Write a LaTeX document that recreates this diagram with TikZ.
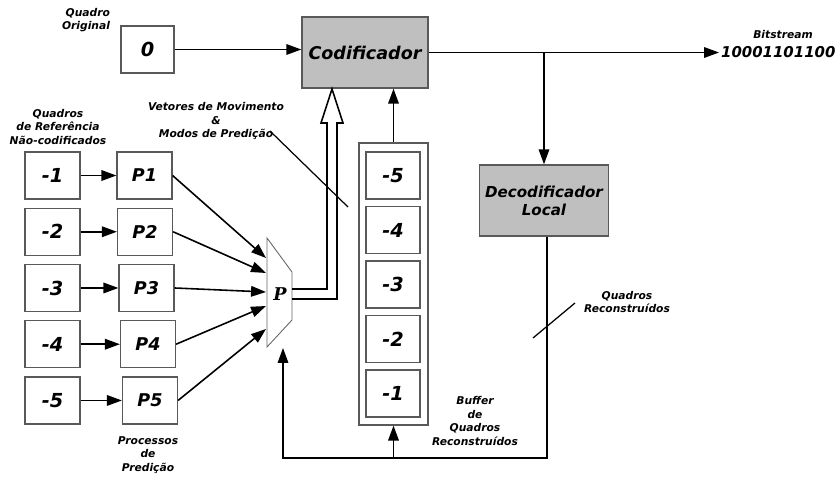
\documentclass[tikz,border=0pt]{standalone}
\usepackage{fontspec}
\setmainfont{DejaVu Sans}
\newfontfamily\muxfont{DejaVu Serif}
\usetikzlibrary{arrows.meta,calc}
\tikzstyle{framebox} = [rectangle, minimum width=1.1cm, minimum height=0.94cm, text centered, draw=black!65, line width=0.7pt, fill=white, font=\fontsize{11}{13}\selectfont\bfseries\itshape]
\tikzstyle{coder} = [rectangle, minimum width=2.5cm, minimum height=1.42cm, align=center, draw=black!65, line width=0.8pt, fill=black!25]
\tikzstyle{smalltxt} = [align=center, inner sep=0pt, font=\fontsize{6.1}{7.7}\selectfont\bfseries\itshape]
\tikzstyle{arrow} = [line width=0.9pt, -{Triangle[length=8.5pt,width=6pt]}]
\tikzstyle{wire} = [line width=0.9pt]
\begin{document}
\begin{tikzpicture}[x=0.02cm, y=-0.02cm, node distance=1.125cm]
  \useasboundingbox (0,0) rectangle (839,477);
  % quadro original, codificador e decodificador
  \node (q0)[framebox, minimum width=1.06cm] at (147.5,49.5) {0};
  \node (cod)[coder, minimum width=2.52cm, font=\fontsize{10}{12}\selectfont\bfseries\itshape] at (365,52.5) {Codificador};
  \node (dec)[coder, minimum width=2.48cm, font=\fontsize{8.6}{10.4}\selectfont\bfseries\itshape] at (544,200.5) {Decodificador\\Local};
  \node (bits)[anchor=west, inner sep=1pt, font=\fontsize{8.5}{10}\selectfont\bfseries\itshape] at (719,52.5) {10001101100};
  % quadros de referencia
  \node (r1)[framebox] at (52.5,175.5) {-1};
  \node (r2)[framebox, below of=r1] {-2};
  \node (r3)[framebox, below of=r2] {-3};
  \node (r4)[framebox, below of=r3] {-4};
  \node (r5)[framebox, below of=r4] {-5};
  % processos de predicao
  \node (p1)[framebox, right of=r1, xshift=0.715cm, font=\fontsize{10}{12}\selectfont\bfseries\itshape] {P1};
  \node (p2)[framebox, right of=r2, xshift=0.725cm, font=\fontsize{10}{12}\selectfont\bfseries\itshape] {P2};
  \node (p3)[framebox, right of=r3, xshift=0.755cm, font=\fontsize{10}{12}\selectfont\bfseries\itshape] {P3};
  \node (p4)[framebox, right of=r4, xshift=0.785cm, font=\fontsize{10}{12}\selectfont\bfseries\itshape] {P4};
  \node (p5)[framebox, right of=r5, xshift=0.825cm, font=\fontsize{10}{12}\selectfont\bfseries\itshape] {P5};
  % multiplexador
  \draw[draw=black!60, line width=0.5pt] (267,238) -- (292,272) -- (292,320) -- (267,347) -- cycle;
  \node (mux) at (280,294) {\muxfont\bfseries\itshape P};
  \coordinate (m1) at (266,258);
  \coordinate (m2) at (266,273);
  \coordinate (m3) at (266,292);
  \coordinate (m4) at (266,306);
  \coordinate (m5) at (266,329);
  \coordinate (mo1) at (292,289);
  \coordinate (mo2) at (292,299);
  \coordinate (mb) at (283,348);
  % buffer
  \node (buf)[rectangle, draw=black!65, line width=0.7pt, minimum width=1.38cm, minimum height=5.64cm] at (393.5,284) {};
  \node (b5)[framebox, minimum width=1.08cm] at (393,175.5) {-5};
  \node (b4)[framebox, minimum width=1.08cm, below of=b5, node distance=1.09cm] {-4};
  \node (b3)[framebox, minimum width=1.08cm, below of=b4, node distance=1.09cm] {-3};
  \node (b2)[framebox, minimum width=1.08cm, below of=b3, node distance=1.09cm] {-2};
  \node (b1)[framebox, minimum width=1.08cm, below of=b2, node distance=1.09cm] {-1};
  \coordinate (fb) at (283,458);
  % textos
  \node (lorig)[smalltxt, align=right] at (86,20) {Quadro\\Original};
  \node (lref)[smalltxt] at (58,127) {Quadros\\de Referência\\Não-codificados};
  \node (lvet)[smalltxt] at (216,121) {Vetores de Movimento\\\&\\Modos de Predição};
  \node (lproc)[smalltxt] at (148,455) {Processos\\de\\Predição};
  \node (lrec)[smalltxt] at (627,302) {Quadros\\Reconstruídos};
  \node (lbuf)[smalltxt] at (475,421) {Buffer\\de\\Quadros\\Reconstruídos};
  \node (lbits)[smalltxt] at (783,35) {Bitstream};
  % conexoes
  \draw[arrow] (q0.east) -- (q0.east -| cod.west);
  \draw[arrow] (cod.east) -- (bits.west);
  \draw[arrow] (cod.east -| dec.north) -- (dec.north);
  \draw[arrow] ([xshift=0.06cm]dec.south) |- (fb) -- (mb);
  \draw[arrow] (buf.south |- fb) -- (buf.south);
  \draw[arrow] (buf.north) -- (buf.north |- cod.south);
  \draw[arrow] (r1) -- (p1);
  \draw[arrow] (r2) -- (p2);
  \draw[arrow] (r3) -- (p3);
  \draw[arrow] (r4) -- (p4);
  \draw[arrow] (r5) -- (p5);
  \draw[arrow] (p1.east) -- (m1);
  \draw[arrow] (p2.east) -- (m2);
  \draw[arrow] (p3.east) -- (m3);
  \draw[arrow] (p4.east) -- (m4);
  \draw[arrow] (p5.east) -- (m5);
  \draw[wire] (mo1) -- (327,289) -- (327,123) -- (321,123) -- (332,89) -- (343,123) -- (337,123) -- (337,299) -- (mo2);
  \draw[line width=0.7pt] (270,131) -- (348,207);
  \draw[line width=0.7pt] (533,338) -- (575,303);
\end{tikzpicture}
\end{document}
